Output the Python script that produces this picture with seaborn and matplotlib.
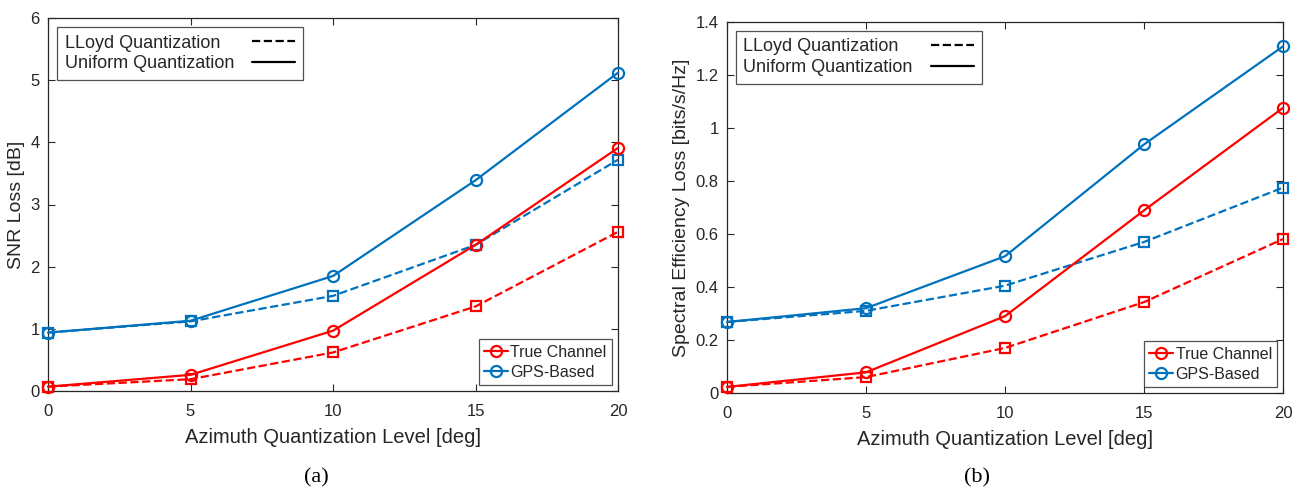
import numpy as np
import pandas as pd
import matplotlib
matplotlib.use("Agg")
import matplotlib.pyplot as plt
import seaborn as sns
from matplotlib.lines import Line2D

# ---- data ----
levels = [0, 5, 10, 15, 20]

snr_true_uniform = [0.07, 0.26, 0.97, 2.35, 3.91]
snr_true_lloyd = [0.07, 0.19, 0.62, 1.36, 2.56]
snr_gps_uniform = [0.94, 1.13, 1.85, 3.39, 5.12]
snr_gps_lloyd = [0.94, 1.12, 1.53, 2.35, 3.72]

se_true_uniform = [0.023, 0.078, 0.29, 0.689, 1.076]
se_true_lloyd = [0.023, 0.060, 0.17, 0.343, 0.581]
se_gps_uniform = [0.268, 0.320, 0.516, 0.938, 1.308]
se_gps_lloyd = [0.268, 0.310, 0.405, 0.570, 0.775]

series_names = ["True Channel", "GPS-Based"]
quant_names = ["LLoyd Quantization", "Uniform Quantization"]
captions = ["(a)", "(b)"]
ylabels = ["SNR Loss [dB]", "Spectral Efficiency Loss [bits/s/Hz]"]
xlabel = "Azimuth Quantization Level [deg]"

RED = "#FF0000"
BLUE = "#0072BD"
AXC = "#262626"
DPI = 100

sns.set_theme(style="white")
plt.rcParams["font.family"] = ["Liberation Sans", "DejaVu Sans"]

fig = plt.figure(figsize=(12.95, 4.88), dpi=DPI)
W, H = 1295, 488
ax1 = fig.add_axes([48 / W, 1 - 391 / H, (618 - 48) / W, (391 - 18) / H])
ax2 = fig.add_axes([727 / W, 1 - 393 / H, (1283 - 727) / W, (393 - 22) / H])


def draw(ax, tu, tl, gu, gl):
    specs = [
        (tl, RED, "--", "s", 6.5),
        (gl, BLUE, "--", "s", 6.5),
        (tu, RED, "-", "o", 8),
        (gu, BLUE, "-", "o", 8),
    ]
    for vals, col, ls, mk, ms in specs:
        df = pd.DataFrame({"x": levels, "y": vals})
        sns.lineplot(data=df, x="x", y="y", ax=ax, color=col, linestyle=ls,
                     marker=mk, markersize=ms, markerfacecolor="none",
                     markeredgecolor=col, markeredgewidth=1.6, linewidth=1.6,
                     clip_on=False, legend=False, zorder=3)


draw(ax1, snr_true_uniform, snr_true_lloyd, snr_gps_uniform, snr_gps_lloyd)
draw(ax2, se_true_uniform, se_true_lloyd, se_gps_uniform, se_gps_lloyd)

ax1.set_ylim(0, 6)
ax1.set_yticks([0, 1, 2, 3, 4, 5, 6])
ax2.set_ylim(0, 1.4)
ax2.set_yticks([0, 0.2, 0.4, 0.6, 0.8, 1.0, 1.2, 1.4])
ax2.set_yticklabels(["0", "0.2", "0.4", "0.6", "0.8", "1", "1.2", "1.4"])

quant_legends = []
for i, ax in enumerate([ax1, ax2]):
    ax.set_xlim(0, 20)
    ax.set_xticks(levels)
    ax.set_xlabel(xlabel, fontsize=14.5, color=AXC, labelpad=7)
    ax.set_ylabel(ylabels[i], fontsize=14, color=AXC, labelpad=4)
    for s in ax.spines.values():
        s.set_visible(True)
        s.set_color(AXC)
        s.set_linewidth(0.9)
    ax.tick_params(axis="both", direction="in", length=5, width=0.8,
                   colors=AXC, labelsize=12, top=True, right=True,
                   bottom=True, left=True, pad=6)
    ax.tick_params(axis="x", pad=9)
    ax.grid(False)
    ax.set_facecolor("white")

    # legend: quantization styles
    qh = [Line2D([], [], color="black", linestyle="--", linewidth=1.6),
          Line2D([], [], color="black", linestyle="-", linewidth=1.6)]
    leg1 = ax.legend(qh, quant_names, loc="upper left", fontsize=13,
                     markerfirst=False, frameon=True, fancybox=False,
                     edgecolor=AXC, borderpad=0.42, labelspacing=0.2,
                     handlelength=2.4, handletextpad=1.0,
                     bbox_to_anchor=(0.016, 0.976), borderaxespad=0.0)
    leg1.get_frame().set_linewidth(0.9)
    ax.add_artist(leg1)
    quant_legends.append(leg1)

    # legend: series
    sh = [Line2D([], [], color=RED, linestyle="-", marker="o", markersize=8,
                 markerfacecolor="none", markeredgewidth=1.6, linewidth=1.6),
          Line2D([], [], color=BLUE, linestyle="-", marker="o", markersize=8,
                 markerfacecolor="none", markeredgewidth=1.6, linewidth=1.6)]
    leg2 = ax.legend(sh, series_names, loc="lower right", fontsize=11.5,
                     frameon=True, fancybox=False, edgecolor=AXC,
                     borderpad=0.35, labelspacing=0.3, handlelength=1.5,
                     handletextpad=0.15, bbox_to_anchor=(0.99, 0.015),
                     borderaxespad=0.0)
    leg2.get_frame().set_linewidth(0.9)

fig.text(316 / W, 1 - 478 / H, captions[0], ha="center", va="center",
         fontsize=16, family=["Liberation Serif", "DejaVu Serif"], color="black")
fig.text(977 / W, 1 - 478 / H, captions[1], ha="center", va="center",
         fontsize=16, family=["Liberation Serif", "DejaVu Serif"], color="black")

# left-align legend texts while keeping the handles aligned on the right
fig.canvas.draw()
renderer = fig.canvas.get_renderer()
for leg in quant_legends:
    col = leg._legend_handle_box.get_children()[0]
    col.align = "left"
    items = col.get_children()
    widths = [t.get_window_extent(renderer).width for t in leg.get_texts()]
    wmax = max(widths)
    for item, w in zip(items, widths):
        item.sep = item.sep + (wmax - w) * 72.0 / DPI

fig.savefig("out.png", dpi=DPI, facecolor="white")
